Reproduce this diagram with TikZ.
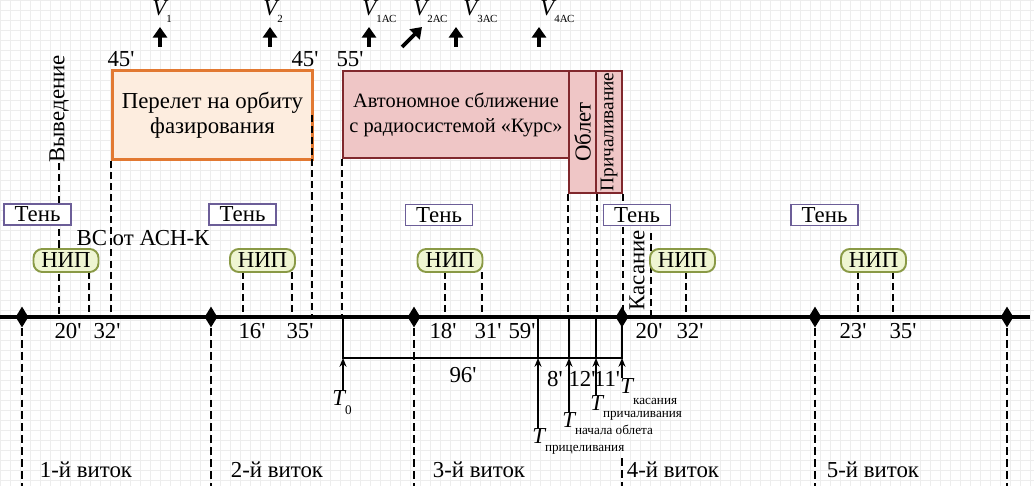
\documentclass[tikz,border=0pt]{standalone}
\usepackage{fontspec}
\setmainfont{Liberation Serif}
\usetikzlibrary{arrows.meta,shapes.geometric}

\definecolor{orbitline}{RGB}{226,121,50}
\definecolor{orbitfill}{RGB}{253,237,223}
\definecolor{autoline}{RGB}{128,40,45}
\definecolor{autofill}{RGB}{239,198,198}
\definecolor{shadeline}{RGB}{108,94,152}
\definecolor{nipline}{RGB}{138,154,70}
\definecolor{nipfill}{RGB}{239,245,210}

\newcommand\lblfont{\fontsize{13}{14.2}\selectfont}
\newcommand\subfont{\fontsize{7.5}{8}\selectfont}
\newcommand\vsubfont{\fontsize{6.2}{7}\selectfont}
\newcommand\mn{\textquotesingle}
\newcommand\Vimp[1]{{\itshape V}\raisebox{-3.8pt}{\vsubfont #1}}
\newcommand\Tmom[2]{{\itshape T}\raisebox{-#1}{\subfont #2}}

\tikzset{
  gridline/.style={gray!14, line width=0.3pt, step=0.2cm},
  axisline/.style={line width=2.8pt},
  evline/.style={line width=1.1pt, dash pattern=on 4pt off 2.3pt},
  revline/.style={line width=1.2pt, dash pattern=on 4.5pt off 2.3pt},
  revmark/.style={diamond, fill=black, inner sep=0pt, minimum width=0.26cm, minimum height=0.42cm},
  lbl/.style={font=\lblfont, inner sep=0pt},
  shadebox/.style={draw=shadeline, line width=1.1pt, fill=white, minimum width=1.34cm, minimum height=0.42cm, inner sep=0pt, font=\lblfont},
  nipbox/.style={draw=nipline, line width=1.1pt, fill=nipfill, rounded corners=5pt, minimum width=1.3cm, minimum height=0.46cm, inner sep=0pt, font=\lblfont},
  autobox/.style={draw=autoline, line width=1.1pt, fill=autofill, inner sep=0pt},
  impulse/.style={-{Triangle[length=6pt,width=8pt]}, line width=2.2pt},
  tarrow/.style={-{Stealth[length=5pt,width=4pt]}, line width=0.9pt},
  bracketline/.style={line width=0.9pt},
}

\begin{document}
\begin{tikzpicture}[x=0.02cm, y=-0.02cm]
  \useasboundingbox (0,0) rectangle (1034,486);
  % background grid
  \draw[gridline] (0,0) grid (1034,486);

  % axis reference points
  \coordinate (axis) at (0,317);
  \coordinate (axisend) at (1030,317);
  \coordinate (bottom) at (0,486);
  \coordinate (nip1out) at (89,317);
  \coordinate (nip2in) at (243,317);
  \coordinate (nip2out) at (292,317);
  \coordinate (nip3in) at (445,317);
  \coordinate (nip3out) at (482,317);
  \coordinate (nip4out) at (686,317);
  \coordinate (nip5in) at (858,317);
  \coordinate (nip5out) at (893,317);
  \coordinate (touch) at (651,317);
  \coordinate (touchtop) at (651,233);
  \coordinate (orbitend) at (312,115);
  \coordinate (rev4low) at (622,458);

  % phase boxes
  \node[draw=orbitline, line width=1.6pt, fill=orbitfill, minimum width=4cm, minimum height=1.78cm, align=center, lbl] (orbit) at (212.5,115) {Перелет на орбиту\\фазирования};
  \node[autobox, minimum width=4.52cm, minimum height=1.74cm, align=center, font=\fontsize{11.6}{14.2}\selectfont] (auto) at (456,114.5) {Автономное сближение\\с радиосистемой «Курс»};
  \node[autobox, rotate=90, minimum width=2.44cm, minimum height=0.54cm, font=\lblfont] (flyby) at (582.5,132) {Облет};
  \node[autobox, rotate=90, minimum width=2.44cm, minimum height=0.52cm, font=\fontsize{11}{12}\selectfont] (dock) at (609,132) {Причаливание};

  % rotated event labels
  \node[lbl, rotate=90, anchor=west] (launch) at (59,163) {Выведение};
  \node[lbl, rotate=90] (contact) at (637,270) {Касание};
  \node[lbl] (asn) at (143,238) {ВС от АСН-К};

  % dashed event lines above the axis
  \draw[evline] (launch.west) -- (launch.west |- axis);
  \draw[evline] (nip1out |- 0,272) -- (nip1out);
  \draw[evline] (orbit.south west) -- (orbit.south west |- axis);
  \draw[evline] (orbitend) -- (orbitend |- axis);
  \draw[evline] (nip2in |- 0,272) -- (nip2in);
  \draw[evline] (nip2out |- 0,272) -- (nip2out);
  \draw[evline] (auto.south west) -- (auto.south west |- axis);
  \draw[evline] (nip3in |- 0,272) -- (nip3in);
  \draw[evline] (nip3out |- 0,272) -- (nip3out);
  \draw[evline] (flyby.north west) -- (flyby.north west |- axis);
  \draw[evline] (flyby.south west) -- (flyby.south west |- axis);
  \draw[evline] (dock.south west) -- (dock.south west |- axis);
  \draw[evline] (touchtop) -- (touch);
  \draw[evline] (nip4out |- 0,272) -- (nip4out);
  \draw[evline] (nip5in |- 0,272) -- (nip5in);
  \draw[evline] (nip5out |- 0,272) -- (nip5out);

  % shadow and ground station boxes
  \node[shadebox] (shade1) at (37.5,214.5) {Тень};
  \node[shadebox] (shade2) at (242.5,214.5) {Тень};
  \node[shadebox] (shade3) at (439,215) {Тень};
  \node[shadebox] (shade4) at (637,215) {Тень};
  \node[shadebox] (shade5) at (824.5,215) {Тень};
  \node[nipbox] (nip1) at (66,260.5) {НИП};
  \node[nipbox] (nip2) at (262.5,260.5) {НИП};
  \node[nipbox] (nip3) at (450,260.5) {НИП};
  \node[nipbox] (nip4) at (682.5,260.5) {НИП};
  \node[nipbox] (nip5) at (873.5,260.5) {НИП};

  % time axis and revolution marks
  \draw[axisline] (axis) -- (axisend);
  \node[revmark] (rev1) at (22,317) {};
  \node[revmark] (rev2) at (211,317) {};
  \node[revmark] (rev3) at (414,317) {};
  \node[revmark] (rev4) at (622,317) {};
  \node[revmark] (rev5) at (815,317) {};
  \node[revmark] (rev6) at (1007,317) {};
  \draw[revline] (rev1.south) -- (rev1 |- bottom);
  \draw[revline] (rev2.south) -- (rev2 |- bottom);
  \draw[revline] (rev3.south) -- (rev3 |- bottom);
  \draw[revline] (rev4low) -- (rev4 |- bottom);
  \draw[revline] (rev5.south) -- (rev5 |- bottom);
  \draw[revline] (rev6.south) -- (rev6 |- bottom);

  % minute labels
  \node[lbl, anchor=base] (m45a) at (121,67) {45\mn};
  \node[lbl, anchor=base] (m45b) at (305,67) {45\mn};
  \node[lbl, anchor=base] (m55) at (350,67) {55\mn};
  \node[lbl, anchor=base] (m20a) at (68,338) {20\mn};
  \node[lbl, anchor=base] (m32a) at (107,338) {32\mn};
  \node[lbl, anchor=base] (m16) at (252,338) {16\mn};
  \node[lbl, anchor=base] (m35a) at (300,338) {35\mn};
  \node[lbl, anchor=base] (m18) at (443,338) {18\mn};
  \node[lbl, anchor=base] (m31) at (488,338) {31\mn};
  \node[lbl, anchor=base] (m59) at (522,338) {59\mn};
  \node[lbl, anchor=base] (m20b) at (649,338) {20\mn};
  \node[lbl, anchor=base] (m32b) at (690,338) {32\mn};
  \node[lbl, anchor=base] (m23) at (853,338) {23\mn};
  \node[lbl, anchor=base] (m35b) at (903,338) {35\mn};

  % rendezvous bracket
  \coordinate (b0) at (343,358);
  \coordinate (b1) at (538,358);
  \coordinate (b2) at (569,358);
  \coordinate (b3) at (596,358);
  \coordinate (b4) at (622,358);
  \draw[bracketline] (b0 |- axis) -- (b0) -- (b4) -- (b4 |- axis);
  \draw[bracketline] (b1 |- axis) -- (b1);
  \draw[bracketline] (b2 |- axis) -- (b2);
  \draw[bracketline] (b3 |- axis) -- (b3);
  \node[lbl, anchor=base] (m96) at (463,382) {96\mn};
  \node[lbl, anchor=base] (m8) at (555,386) {8\mn};
  \node[lbl, anchor=base] (m12) at (582,386) {12\mn};
  \node[lbl, anchor=base] (m11) at (607,386) {11\mn};

  % moments
  \node[lbl, anchor=north west] (Tzero) at (332,390) {\Tmom{5pt}{0}};
  \node[lbl, anchor=north west] (Taim) at (532,428) {\Tmom{4.5pt}{прицеливания}};
  \node[lbl, anchor=north west] (Tfly) at (562,412) {\Tmom{4pt}{начала облета}};
  \node[lbl, anchor=north west] (Tdock) at (590,395) {\Tmom{4pt}{причаливания}};
  \node[lbl, anchor=north west] (Ttouch) at (620,378) {\Tmom{6.2pt}{касания}};
  \draw[tarrow] (b0 |- Tzero.north) -- (b0);
  \draw[tarrow] (b1 |- Taim.north) -- (b1);
  \draw[tarrow] (b2 |- Tfly.north) -- (b2);
  \draw[tarrow] (b3 |- Tdock.north) -- (b3);
  \draw[tarrow] (b4 |- Ttouch.north) -- (b4);

  % impulses
  \node[lbl, anchor=base west] (V1) at (152,16) {\Vimp{1}};
  \node[lbl, anchor=base west] (V2) at (263,16) {\Vimp{2}};
  \node[lbl, anchor=base west] (V1ac) at (362,16) {\Vimp{1АС}};
  \node[lbl, anchor=base west] (V2ac) at (413,16) {\Vimp{2АС}};
  \node[lbl, anchor=base west] (V3ac) at (463,16) {\Vimp{3АС}};
  \node[lbl, anchor=base west] (V4ac) at (540,16) {\Vimp{4АС}};
  \coordinate (dv1) at (160,47);
  \coordinate (dv2) at (270,47);
  \coordinate (dv1ac) at (369,47);
  \coordinate (dv2ac) at (402,47);
  \coordinate (tip2ac) at (422,27);
  \coordinate (dv3ac) at (456,47);
  \coordinate (dv4ac) at (539,47);
  \draw[impulse] (dv1) -- (dv1 |- 0,27);
  \draw[impulse] (dv2) -- (dv2 |- 0,27);
  \draw[impulse] (dv1ac) -- (dv1ac |- 0,27);
  \draw[impulse] (dv2ac) -- (tip2ac);
  \draw[impulse] (dv3ac) -- (dv3ac |- 0,27);
  \draw[impulse] (dv4ac) -- (dv4ac |- 0,27);

  % revolution labels
  \node[lbl, anchor=base] (turn1) at (86,477) {1-й виток};
  \node[lbl, anchor=base] (turn2) at (277,477) {2-й виток};
  \node[lbl, anchor=base] (turn3) at (479,477) {3-й виток};
  \node[lbl, anchor=base] (turn4) at (673,477) {4-й виток};
  \node[lbl, anchor=base] (turn5) at (873,477) {5-й виток};
\end{tikzpicture}
\end{document}
